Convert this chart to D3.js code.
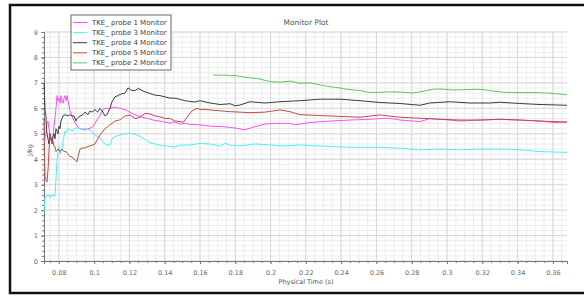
<!DOCTYPE html>
<html>
<head>
<meta charset="utf-8">
<script src="https://cdn.jsdelivr.net/npm/d3@7"></script>
<style>
  body { margin: 0; background: #fff; }
  text { font-family: "DejaVu Sans", sans-serif; }
</style>
</head>
<body>
<div class="chart"></div>
<script>
// series values as [time (s), J/kg]
var probe1 = [[0.0716,4.4],[0.0722,4.9],[0.0727,5.0],[0.0733,5.4],[0.0739,5.5],[0.0744,5.2],[0.0750,4.9],[0.0761,4.6],[0.0767,4.9],[0.0773,5.3],[0.0778,5.6],[0.0784,6.0],[0.0790,6.5],[0.0795,6.3],[0.0801,6.4],[0.0807,6.2],[0.0812,6.5],[0.0818,6.3],[0.0824,6.2],[0.0829,6.4],[0.0835,6.5],[0.0841,6.3],[0.0847,6.5],[0.0852,6.3],[0.0863,5.9],[0.0875,5.7],[0.0886,5.5],[0.0903,5.3],[0.0920,5.2],[0.0948,5.15],[0.0965,5.2],[0.0988,5.25],[0.1005,5.4],[0.1020,5.6],[0.1033,5.7],[0.1045,5.9],[0.1062,6.0],[0.1090,6.0],[0.1118,6.05],[0.1147,6.0],[0.1175,5.95],[0.1203,5.85],[0.1232,5.75],[0.1260,5.68],[0.1288,5.62],[0.1317,5.58],[0.1345,5.52],[0.1373,5.5],[0.1402,5.46],[0.1430,5.42],[0.1458,5.46],[0.1487,5.38],[0.1515,5.42],[0.1543,5.37],[0.1600,5.35],[0.1657,5.3],[0.1726,5.28],[0.1771,5.25],[0.1827,5.2],[0.1850,5.15],[0.1883,5.22],[0.1912,5.28],[0.1968,5.38],[0.2025,5.41],[0.2110,5.41],[0.2138,5.35],[0.2223,5.44],[0.2337,5.5],[0.2450,5.54],[0.2563,5.57],[0.2648,5.61],[0.2705,5.58],[0.2733,5.54],[0.2847,5.48],[0.2903,5.6],[0.3017,5.54],[0.3073,5.5],[0.3187,5.54],[0.3300,5.57],[0.3413,5.54],[0.3527,5.5],[0.3612,5.44],[0.3680,5.46]];

var probe3 = [[0.0716,1.9],[0.0719,2.3],[0.0722,2.5],[0.0727,2.5],[0.0733,2.6],[0.0739,2.55],[0.0744,2.6],[0.0750,2.5],[0.0756,2.6],[0.0761,2.6],[0.0767,2.6],[0.0773,2.55],[0.0778,2.55],[0.0784,3.2],[0.0790,4.0],[0.0795,4.3],[0.0801,4.5],[0.0807,4.2],[0.0812,4.3],[0.0818,4.4],[0.0824,4.7],[0.0829,4.9],[0.0835,5.1],[0.0841,5.05],[0.0852,5.2],[0.0863,5.15],[0.0875,5.1],[0.0886,5.2],[0.0903,5.23],[0.0920,5.2],[0.0948,5.2],[0.0977,5.15],[0.1005,4.95],[0.1033,4.83],[0.1062,4.6],[0.1073,4.55],[0.1090,4.56],[0.1101,4.8],[0.1118,4.89],[0.1147,4.95],[0.1175,5.0],[0.1203,5.02],[0.1232,4.98],[0.1260,4.9],[0.1288,4.78],[0.1317,4.65],[0.1345,4.6],[0.1373,4.55],[0.1430,4.5],[0.1458,4.48],[0.1487,4.55],[0.1543,4.56],[0.1600,4.62],[0.1657,4.6],[0.1714,4.52],[0.1743,4.63],[0.1771,4.55],[0.1827,4.52],[0.1912,4.6],[0.1997,4.56],[0.2081,4.52],[0.2167,4.56],[0.2337,4.5],[0.2450,4.47],[0.2620,4.47],[0.2733,4.43],[0.2847,4.37],[0.2960,4.4],[0.3073,4.37],[0.3187,4.4],[0.3300,4.4],[0.3413,4.37],[0.3527,4.3],[0.3680,4.27]];

var probe4 = [[0.0716,7.0],[0.0719,6.5],[0.0722,5.9],[0.0725,5.8],[0.0727,5.7],[0.0730,5.2],[0.0733,5.0],[0.0739,4.8],[0.0744,4.6],[0.0750,5.0],[0.0756,4.8],[0.0761,4.7],[0.0767,4.9],[0.0773,5.0],[0.0778,4.8],[0.0784,5.2],[0.0790,5.1],[0.0795,5.0],[0.0801,5.3],[0.0807,5.2],[0.0812,5.5],[0.0818,5.6],[0.0824,5.7],[0.0835,5.75],[0.0852,5.7],[0.0863,5.75],[0.0875,5.7],[0.0886,5.7],[0.0897,5.5],[0.0903,5.6],[0.0920,5.7],[0.0937,5.75],[0.0948,5.85],[0.0965,5.75],[0.0977,5.9],[0.0988,5.85],[0.1005,5.95],[0.1020,5.85],[0.1033,6.0],[0.1045,5.9],[0.1062,5.7],[0.1073,5.75],[0.1090,6.0],[0.1101,6.25],[0.1118,6.45],[0.1135,6.5],[0.1147,6.55],[0.1175,6.6],[0.1192,6.8],[0.1203,6.75],[0.1215,6.7],[0.1232,6.7],[0.1250,6.78],[0.1260,6.75],[0.1277,6.68],[0.1288,6.65],[0.1317,6.58],[0.1345,6.52],[0.1373,6.5],[0.1402,6.45],[0.1430,6.4],[0.1458,6.4],[0.1487,6.35],[0.1515,6.3],[0.1543,6.27],[0.1572,6.25],[0.1600,6.3],[0.1657,6.21],[0.1714,6.15],[0.1771,6.18],[0.1799,6.1],[0.1827,6.13],[0.1883,6.26],[0.1968,6.21],[0.2053,6.26],[0.2167,6.3],[0.2281,6.36],[0.2393,6.36],[0.2507,6.3],[0.2620,6.23],[0.2733,6.19],[0.2847,6.12],[0.2903,6.21],[0.3017,6.26],[0.3130,6.21],[0.3243,6.21],[0.3300,6.24],[0.3413,6.19],[0.3527,6.15],[0.3680,6.12]];

var probe5 = [[0.0716,5.6],[0.0719,4.0],[0.0722,3.3],[0.0727,3.2],[0.0733,3.1],[0.0739,3.6],[0.0744,4.3],[0.0750,5.0],[0.0756,4.8],[0.0761,4.6],[0.0767,4.7],[0.0773,4.5],[0.0778,4.5],[0.0784,4.3],[0.0795,4.4],[0.0807,4.3],[0.0818,4.4],[0.0829,4.3],[0.0841,4.3],[0.0852,4.2],[0.0863,4.1],[0.0875,4.1],[0.0886,4.0],[0.0897,3.95],[0.0903,3.9],[0.0909,4.1],[0.0920,4.4],[0.0937,4.45],[0.0948,4.44],[0.0965,4.5],[0.0988,4.55],[0.1005,4.6],[0.1020,4.8],[0.1033,4.95],[0.1062,5.2],[0.1090,5.35],[0.1118,5.5],[0.1147,5.55],[0.1175,5.7],[0.1203,5.74],[0.1232,5.6],[0.1260,5.65],[0.1288,5.8],[0.1317,5.78],[0.1345,5.7],[0.1373,5.67],[0.1402,5.6],[0.1430,5.6],[0.1458,5.5],[0.1487,5.48],[0.1504,5.45],[0.1515,5.54],[0.1543,5.8],[0.1555,5.9],[0.1584,6.0],[0.1600,5.96],[0.1657,5.94],[0.1714,5.9],[0.1771,5.87],[0.1827,5.85],[0.1883,5.83],[0.1968,5.85],[0.2053,5.94],[0.2110,5.87],[0.2167,5.75],[0.2337,5.7],[0.2507,5.65],[0.2620,5.74],[0.2733,5.65],[0.2847,5.61],[0.2960,5.57],[0.3073,5.54],[0.3187,5.54],[0.3300,5.57],[0.3413,5.54],[0.3527,5.5],[0.3680,5.46]];

var probe2 = [[0.1674,7.31],[0.1700,7.3],[0.1743,7.31],[0.1771,7.28],[0.1799,7.3],[0.1827,7.25],[0.1883,7.2],[0.1940,7.15],[0.1997,7.05],[0.2053,7.03],[0.2110,7.07],[0.2167,6.98],[0.2223,7.0],[0.2281,6.92],[0.2337,6.85],[0.2393,6.8],[0.2433,6.75],[0.2507,6.7],[0.2563,6.62],[0.2620,6.63],[0.2677,6.65],[0.2733,6.64],[0.2807,6.6],[0.2847,6.65],[0.2920,6.75],[0.2960,6.76],[0.3033,6.72],[0.3130,6.74],[0.3187,6.75],[0.3243,6.7],[0.3300,6.65],[0.3340,6.62],[0.3413,6.62],[0.3487,6.62],[0.3560,6.6],[0.3623,6.57],[0.3680,6.53]];

var seriesNames = ["TKE_ probe 1 Monitor", "TKE_ probe 3 Monitor", "TKE_ probe 4 Monitor", "TKE_ probe 5 Monitor", "TKE_ probe 2 Monitor"];
var seriesData  = [probe1, probe3, probe4, probe5, probe2];
var seriesColors = ["#ff4cff", "#4cf0f0", "#3c3c3c", "#c44a44", "#5cc85c"];

var xTicks = [0.08, 0.1, 0.12, 0.14, 0.16, 0.18, 0.2, 0.22, 0.24, 0.26, 0.28, 0.3, 0.32, 0.34, 0.36];
var yTicks = [0, 1, 2, 3, 4, 5, 6, 7, 8, 9];

function drawChart() {
  var w = 584, h = 297;
  var pLeft = 44, pRight = 567, pTop = 32, pBottom = 261;

  var x = d3.scaleLinear().domain([0.0716, 0.368]).range([pLeft, pRight]);
  var y = d3.scaleLinear().domain([0, 9]).range([pBottom, pTop]);

  var minorX = d3.range(0.075, 0.3681, 0.005);
  var minorY = d3.range(0.2, 9.01, 0.2);

  var svg = d3.select(".chart")
    .append("svg")
    .attr("width", w)
    .attr("height", h);

  // frame round the whole picture
  svg.append("rect")
    .attr("x", 10).attr("y", 5)
    .attr("width", 580).attr("height", 288)
    .attr("fill", "none")
    .attr("stroke", "#111")
    .attr("stroke-width", 2.5);

  var grid = svg.append("g");

  // minor grid
  grid.selectAll("line.mx")
    .data(minorX)
    .enter().append("line")
      .attr("x1", function (d) { return x(d); })
      .attr("x2", function (d) { return x(d); })
      .attr("y1", pTop).attr("y2", pBottom)
      .attr("stroke", "#ececec");

  grid.selectAll("line.my")
    .data(minorY)
    .enter().append("line")
      .attr("x1", pLeft).attr("x2", pRight)
      .attr("y1", function (d) { return y(d); })
      .attr("y2", function (d) { return y(d); })
      .attr("stroke", "#ececec");

  // major grid
  grid.selectAll("line.gx")
    .data(xTicks)
    .enter().append("line")
      .attr("x1", function (d) { return x(d); })
      .attr("x2", function (d) { return x(d); })
      .attr("y1", pTop).attr("y2", pBottom)
      .attr("stroke", "#d8d8d8");

  grid.selectAll("line.gy")
    .data(yTicks)
    .enter().append("line")
      .attr("x1", pLeft).attr("x2", pRight)
      .attr("y1", function (d) { return y(d); })
      .attr("y2", function (d) { return y(d); })
      .attr("stroke", "#d8d8d8");

  // axes
  var axisBottom = d3.axisBottom(x)
    .tickValues(xTicks)
    .tickFormat(function (d) { return String(+d.toFixed(2)); })
    .tickSize(3);

  var axisLeft = d3.axisLeft(y)
    .tickValues(yTicks)
    .tickSize(3);

  // minor ticks
  svg.append("g")
    .attr("transform", "translate(0," + pBottom + ")")
    .call(d3.axisBottom(x).tickValues(minorX).tickSize(2).tickFormat(""));
  svg.append("g")
    .attr("transform", "translate(" + pLeft + ",0)")
    .call(d3.axisLeft(y).tickValues(minorY).tickSize(2).tickFormat(""));

  var gx = svg.append("g")
    .attr("transform", "translate(0," + pBottom + ")")
    .call(axisBottom);

  var gy = svg.append("g")
    .attr("transform", "translate(" + pLeft + ",0)")
    .call(axisLeft);

  svg.selectAll(".domain").attr("stroke", "#777");
  svg.selectAll(".tick line").attr("stroke", "#777");
  svg.selectAll(".tick text")
    .attr("fill", "#666")
    .style("font-size", "6.5px");
  gx.selectAll(".tick text").attr("dy", "1.2em");

  // lines
  var line = d3.line()
    .x(function (d) { return x(d[0]); })
    .y(function (d) { return y(d[1]); });

  svg.append("g").selectAll("path")
    .data(seriesData)
    .enter().append("path")
      .attr("d", line)
      .attr("fill", "none")
      .attr("stroke", function (d, i) { return seriesColors[i]; })
      .attr("stroke-width", 1);

  // titles
  svg.append("text")
    .attr("x", 306).attr("y", 25)
    .attr("text-anchor", "middle")
    .attr("fill", "#555")
    .style("font-size", "7.5px")
    .text("Monitor Plot");

  svg.append("text")
    .attr("x", 306).attr("y", 284)
    .attr("text-anchor", "middle")
    .attr("fill", "#555")
    .style("font-size", "6.5px")
    .text("Physical Time (s)");

  svg.append("text")
    .attr("transform", "translate(32,150) rotate(-90)")
    .attr("text-anchor", "middle")
    .attr("fill", "#555")
    .style("font-size", "6.5px")
    .text("J/kg");

  // legend
  var legend = svg.append("g");
  legend.append("rect")
    .attr("x", 71).attr("y", 15)
    .attr("width", 100).attr("height", 55)
    .attr("fill", "#fff")
    .attr("stroke", "#666");

  var items = legend.selectAll("g.item")
    .data(seriesNames)
    .enter().append("g")
      .attr("transform", function (d, i) { return "translate(73," + (22.5 + i * 10.1) + ")"; });

  items.append("line")
    .attr("x1", 0).attr("x2", 14)
    .attr("stroke", function (d, i) { return seriesColors[i]; })
    .attr("stroke-width", 1);

  items.append("text")
    .attr("x", 19).attr("y", 2.5)
    .attr("fill", "#444")
    .style("font-size", "7px")
    .text(function (d) { return d; });
}

drawChart();
</script>
</body>
</html>
